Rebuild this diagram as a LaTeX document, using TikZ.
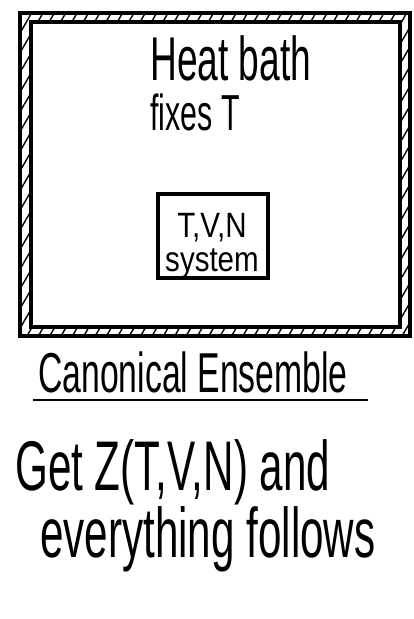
\documentclass[tikz,border=0pt]{standalone}
\usepackage{fontspec}
\newfontfamily\hand[FakeStretch=0.6]{Liberation Sans}
\newfontfamily\handwide[FakeStretch=0.84]{Liberation Sans}
\usetikzlibrary{patterns.meta}

\tikzset{
    hand/.style={font=\hand, inner sep=0pt, anchor=base west},
    wall/.style={line width=2.5pt},
    sysbox/.style={draw, line width=2.5pt, minimum width=2.75cm, minimum height=2.1cm, inner sep=0pt},
}

\begin{document}
\begin{tikzpicture}[x=0.025cm, y=-0.025cm]
            \useasboundingbox (0,0) rectangle (414,619);
            % heat bath wall
            \coordinate (outA) at (20,13);
            \coordinate (outB) at (410,336);
            \coordinate (inA) at (31,22);
            \coordinate (inB) at (400,327);
            \fill[pattern={Lines[angle=60, distance=7pt, line width=1pt]}, even odd rule]
                (outA) rectangle (outB) (inA) rectangle (inB);
            \draw[wall] (outA) rectangle (outB);
            \draw[wall] (inA) rectangle (inB);
            \node[hand, font=\hand\fontsize{44}{44}\selectfont] (heat) at (150,80) {Heat bath};
            \node[hand, font=\hand\fontsize{36}{36}\selectfont] (fixes) at (150,130) {fixes T};
            % the system
            \node[sysbox] (sys) at (213,236) {};
            \node[hand, font=\handwide\fontsize{25}{24}\selectfont, align=center, anchor=base] (tvn) at (212,271) {T,V,N\\system};
            % caption
            \node[hand, font=\hand\fontsize{40}{40}\selectfont] (canon) at (38,392) {Canonical Ensemble};
            \coordinate (ulA) at (33,400);
            \coordinate (ulB) at (368,400);
            \draw[line width=1.5pt] (ulA) -- (ulB);
            \node[hand, font=\hand\fontsize{50}{50}\selectfont] (get) at (15,490) {Get Z(T,V,N) and};
            \node[hand, font=\hand\fontsize{50}{50}\selectfont] (every) at (40,557) {everything follows};
        \end{tikzpicture}
\end{document}
